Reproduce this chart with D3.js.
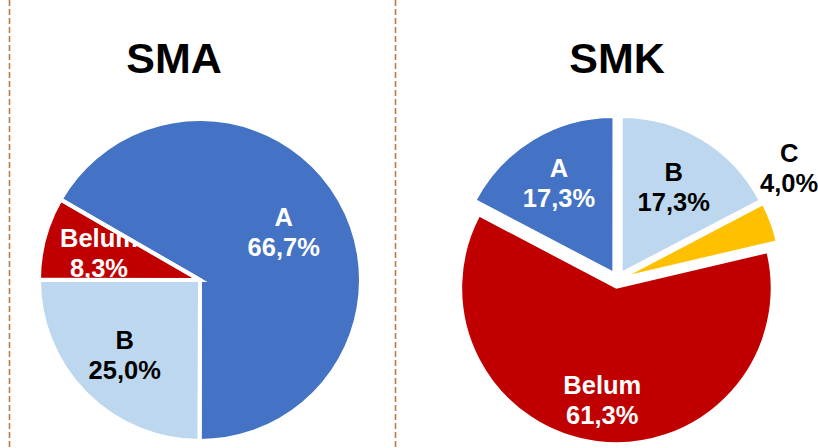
<!DOCTYPE html>
<html><head><meta charset="utf-8">
<script src="https://cdn.jsdelivr.net/npm/d3@7"></script>
<style>body{margin:0;background:#fff} svg{display:block}</style>
</head><body><svg id="c" width="818" height="448"></svg>
<script>
// ---- data ----
const titles = ["SMA", "SMK"];
const smaCategories = ["A", "B", "Belum"];
const smaValues = [66.7, 25.0, 8.3];
const smaLabels = ["66,7%", "25,0%", "8,3%"];
const smkCategories = ["A", "B", "C", "Belum"];
const smkValues = [17.3, 17.3, 4.0, 61.3];
const smkLabels = ["17,3%", "17,3%", "4,0%", "61,3%"];

// ---- styles / layout ----
const colorOf = {A: "#4472C4", B: "#BDD7EE", C: "#FFC000", Belum: "#C00000"};
const textColorOf = {A: "#ffffff", B: "#000000", C: "#000000", Belum: "#ffffff"};
const FONT = "'Liberation Sans', Arial, Helvetica, sans-serif";
const rad = d => d * Math.PI / 180;

const pies = [
  {title: titles[0], cats: smaCategories, vals: smaValues, labs: smaLabels,
   cx: 200, cy: 280, r: 161, start: -60, explode: 0, stroke: 4, titleX: 174,
   labelPos: {A: {k: 0.60}, B: {k: 0.66}, Belum: {k: 0.65}}},
  {title: titles[1], cats: smkCategories, vals: smkValues, labs: smkLabels,
   cx: 617.5, cy: 279.5, r: 155, start: -62.3, explode: 8.5, stroke: 1.5, titleX: 617,
   labelPos: {A: {k: 0.73}, B: {k: 0.70}, C: {k: 1.32, angle: 57}, Belum: {k: 0.78}}}
];

const svg = d3.select("#c");
svg.append("rect").attr("width", 818).attr("height", 448).attr("fill", "#fff");

// dashed separators
[9.5, 395.5].forEach(x => {
  svg.append("line").attr("x1", x).attr("x2", x).attr("y1", 0).attr("y2", 448)
    .attr("stroke", "#B97B4C").attr("stroke-width", 1.6).attr("stroke-dasharray", "6,3");
});

pies.forEach((p, pi) => {
  const data = p.cats.map((c, i) => ({cat: c, value: p.vals[i], label: p.labs[i]}));
  const s = rad(p.start);
  const pie = d3.pie().sort(null).value(d => d.value).startAngle(s).endAngle(s + 2 * Math.PI);
  const arcs = pie(data);
  const arc = d3.arc().innerRadius(0).outerRadius(p.r);

  svg.append("text").attr("x", p.titleX).attr("y", 73).attr("text-anchor", "middle")
    .attr("font-family", FONT).attr("font-weight", "bold").attr("font-size", 43)
    .attr("fill", "#000").text(p.title);

  const g = svg.append("g").attr("transform", `translate(${p.cx},${p.cy})`);
  const off = d => {
    const m = (d.startAngle + d.endAngle) / 2;
    return [Math.sin(m) * p.explode, -Math.cos(m) * p.explode];
  };

  const defs = svg.append("defs");
  arcs.forEach((d, i) => {
    const o = off(d);
    defs.append("clipPath").attr("id", `clip${pi}_${i}`)
      .append("path").attr("d", arc(d)).attr("transform", `translate(${o[0]},${o[1]})`);
  });

  g.selectAll("path.slice").data(arcs).join("path").attr("class", "slice")
    .attr("d", arc).attr("transform", d => `translate(${off(d)})`)
    .attr("fill", d => colorOf[d.data.cat]);

  // labels
  arcs.forEach((d, i) => {
    const lp = p.labelPos[d.data.cat];
    const m = lp.angle !== undefined ? rad(lp.angle) : (d.startAngle + d.endAngle) / 2;
    const dist = lp.k * p.r;
    const x = Math.sin(m) * dist, y = -Math.cos(m) * dist;
    const inside = lp.k < 1;
    const lg = g.append("g");
    if (inside) lg.attr("clip-path", `url(#clip${pi}_${i})`);
    const t = lg.append("text").attr("text-anchor", "middle")
      .attr("font-family", FONT).attr("font-weight", "bold").attr("font-size", 25.5)
      .attr("fill", textColorOf[d.data.cat]);
    t.append("tspan").attr("x", x).attr("y", y - 5.8).text(d.data.cat);
    t.append("tspan").attr("x", x).attr("y", y + 24.2).text(d.data.label);
  });

  // white borders on top
  g.selectAll("path.border").data(arcs).join("path").attr("class", "border")
    .attr("d", arc).attr("transform", d => `translate(${off(d)})`)
    .attr("fill", "none").attr("stroke", "#fff").attr("stroke-width", p.stroke)
    .attr("stroke-linejoin", "miter");
});
</script></body></html>
